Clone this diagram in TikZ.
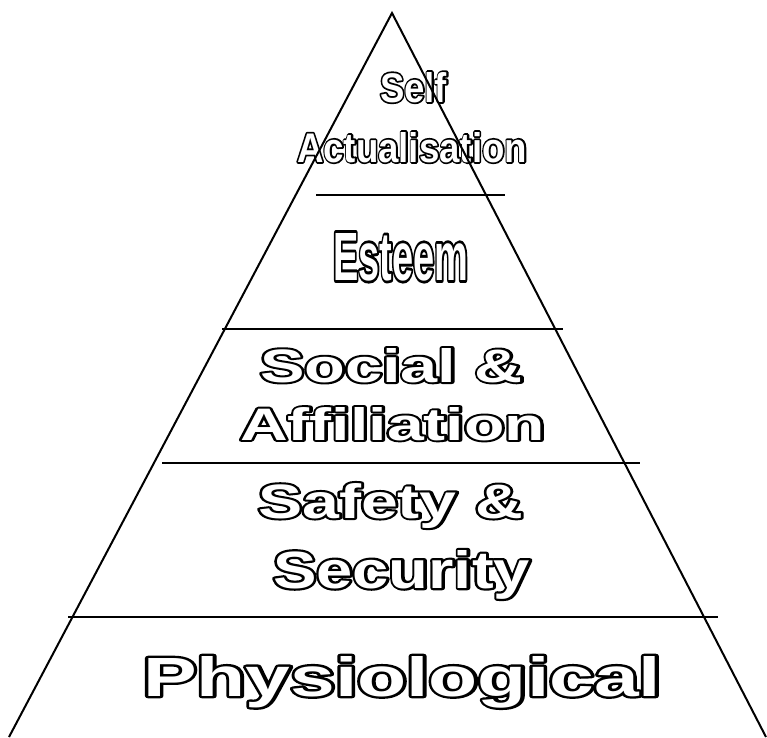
\documentclass[tikz,border=0pt]{standalone}
\usepackage{fontspec}
\usepackage{graphicx}
\setmainfont{Liberation Sans}
\newcommand{\hollow}[3]{\resizebox{#1}{#2}{\fontsize{40}{40}\selectfont\bfseries\rlap{\special{pdf:literal 1 Tr 3.4 w 1 j}#3\special{pdf:literal 0 Tr}}\textcolor{white}{#3}}}
\begin{document}
\begin{tikzpicture}[x=1pt,y=-1pt,
  edge/.style={line width=2pt,black},
  lbl/.style={inner sep=0pt,outer sep=0pt,anchor=base west}]
\useasboundingbox (0,0) rectangle (767,737);
\node[lbl] (self) at (380,102) {\hollow{67pt}{30pt}{Self}};
\node[lbl] (act) at (297,162) {\hollow{230pt}{30pt}{Actualisation}};
\node[lbl] (est) at (333,280) {\hollow{135pt}{47pt}{Esteem}};
\node[lbl] (soc) at (260,382) {\hollow{263pt}{34pt}{Social \&}};
\node[lbl] (aff) at (240,440) {\hollow{305pt}{33pt}{Affiliation}};
\node[lbl] (saf) at (258,518) {\hollow{265pt}{35pt}{Safety \&}};
\node[lbl] (sec) at (273,588) {\hollow{257pt}{38pt}{Security}};
\node[lbl] (phy) at (143,696) {\hollow{518pt}{40pt}{Physiological}};
\coordinate (apex) at (392,13);
\coordinate (bl) at (9,737);
\coordinate (br) at (766,737);
\draw[edge] (bl) -- (apex) -- (br);
\coordinate (a1) at (316,195); \coordinate (b1) at (505,195);
\coordinate (a2) at (222,329); \coordinate (b2) at (563,329);
\coordinate (a3) at (162,463); \coordinate (b3) at (640,463);
\coordinate (a4) at (68,617);  \coordinate (b4) at (718,617);
\draw[edge] (a1) -- (b1);
\draw[edge] (a2) -- (b2);
\draw[edge] (a3) -- (b3);
\draw[edge] (a4) -- (b4);
\end{tikzpicture}
\end{document}
